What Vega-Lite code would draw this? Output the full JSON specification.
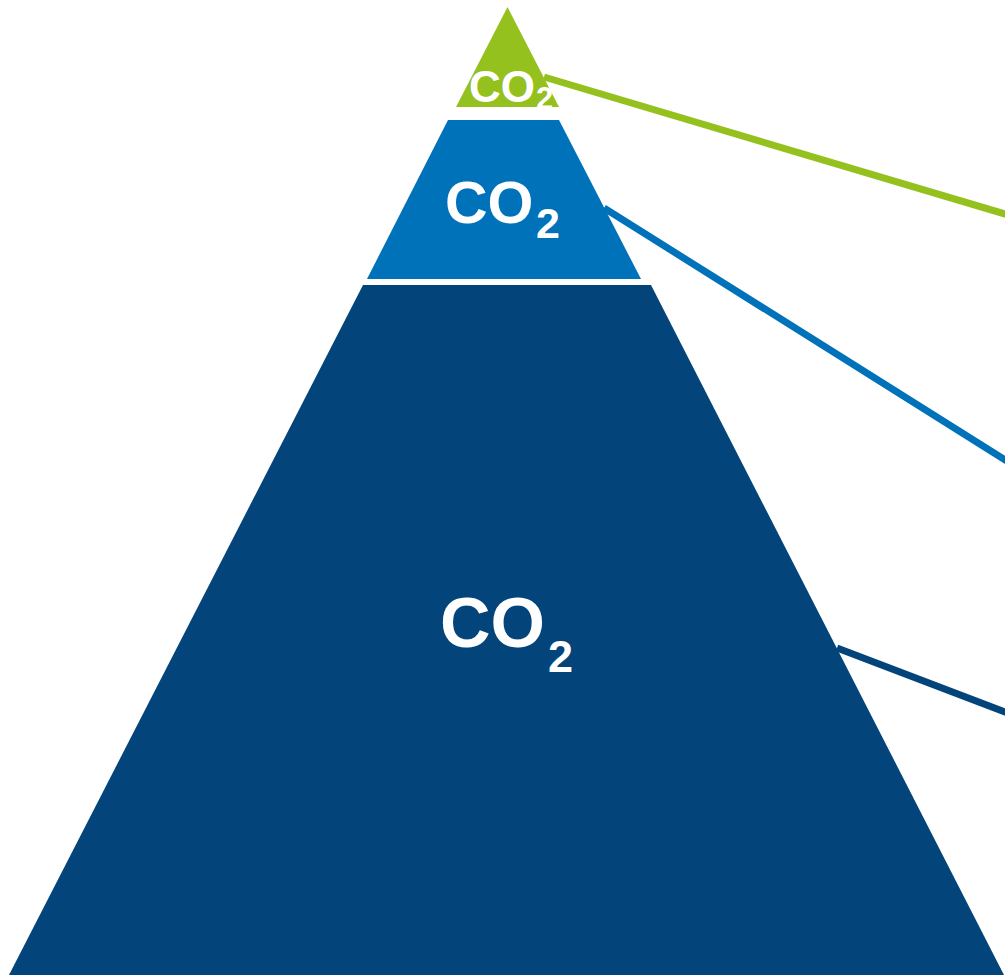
{
  "$schema": "https://vega.github.io/schema/vega-lite/v6.json",
  "width": 1005,
  "height": 975,
  "autosize": {"type": "none"},
  "padding": 0,
  "background": "white",
  "config": {"view": {"stroke": null}},
  "datasets": {
    "shapes": [
      {"level": "top", "y": 7, "xl": 507.5, "xr": 507.5},
      {"level": "top", "y": 107, "xl": 456, "xr": 559},
      {"level": "middle", "y": 120, "xl": 448, "xr": 559},
      {"level": "middle", "y": 279, "xl": 367, "xr": 641},
      {"level": "base", "y": 285, "xl": 363, "xr": 651},
      {"level": "base", "y": 975, "xl": 9, "xr": 1004}
    ],
    "lines": [
      {"level": "top", "x": 544, "y": 77},
      {"level": "top", "x": 1010, "y": 215.5},
      {"level": "middle", "x": 604, "y": 208},
      {"level": "middle", "x": 1010, "y": 463},
      {"level": "base", "x": 837, "y": 648},
      {"level": "base", "x": 1010, "y": 714}
    ],
    "labels": [
      {"level": "top", "x": 469, "y": 102, "sx": 536, "sy": 109},
      {"level": "middle", "x": 445, "y": 223, "sx": 536, "sy": 238},
      {"level": "base", "x": 440, "y": 647, "sx": 548, "sy": 672}
    ]
  },
  "layer": [
    {
      "data": {"name": "lines"},
      "mark": {"type": "line", "strokeWidth": 7, "strokeCap": "butt", "clip": true},
      "encoding": {
        "x": {"field": "x", "type": "quantitative", "scale": {"domain": [0, 1005], "nice": false, "zero": false}, "axis": null},
        "y": {"field": "y", "type": "quantitative", "scale": {"domain": [0, 975], "reverse": true, "nice": false, "zero": false}, "axis": null},
        "detail": {"field": "level"},
        "color": {"field": "level", "type": "nominal", "scale": {"domain": ["top", "middle", "base"], "range": ["#95C11F", "#0072BA", "#03457A"]}, "legend": null}
      }
    },
    {
      "data": {"name": "shapes"},
      "mark": {"type": "area", "orient": "horizontal", "interpolate": "linear"},
      "encoding": {
        "y": {"field": "y", "type": "quantitative", "scale": {"domain": [0, 975], "reverse": true, "nice": false, "zero": false}, "axis": null},
        "x": {"field": "xl", "type": "quantitative", "stack": null, "scale": {"domain": [0, 1005], "nice": false, "zero": false}, "axis": null},
        "x2": {"field": "xr"},
        "detail": {"field": "level"},
        "color": {"field": "level", "type": "nominal", "scale": {"domain": ["top", "middle", "base"], "range": ["#95C11F", "#0072BA", "#03457A"]}, "legend": null}
      }
    },
    {
      "data": {"name": "labels"},
      "mark": {"type": "text", "font": "Liberation Sans", "fontWeight": "bold", "color": "white", "align": "left", "baseline": "alphabetic", "text": "CO"},
      "encoding": {
        "x": {"field": "x", "type": "quantitative", "scale": {"domain": [0, 1005], "nice": false, "zero": false}, "axis": null},
        "y": {"field": "y", "type": "quantitative", "scale": {"domain": [0, 975], "reverse": true, "nice": false, "zero": false}, "axis": null},
        "size": {"field": "level", "type": "nominal", "scale": {"type": "ordinal", "domain": ["top", "middle", "base"], "range": [44, 59, 70]}, "legend": null}
      }
    },
    {
      "data": {"name": "labels"},
      "mark": {"type": "text", "font": "Liberation Sans", "fontWeight": "bold", "color": "white", "align": "left", "baseline": "alphabetic", "text": "2"},
      "encoding": {
        "x": {"field": "sx", "type": "quantitative", "scale": {"domain": [0, 1005], "nice": false, "zero": false}, "axis": null},
        "y": {"field": "sy", "type": "quantitative", "scale": {"domain": [0, 975], "reverse": true, "nice": false, "zero": false}, "axis": null},
        "size": {"field": "level", "type": "nominal", "scale": {"type": "ordinal", "domain": ["top", "middle", "base"], "range": [31, 43, 45]}, "legend": null}
      }
    }
  ],
  "resolve": {"scale": {"size": "independent"}}
}
